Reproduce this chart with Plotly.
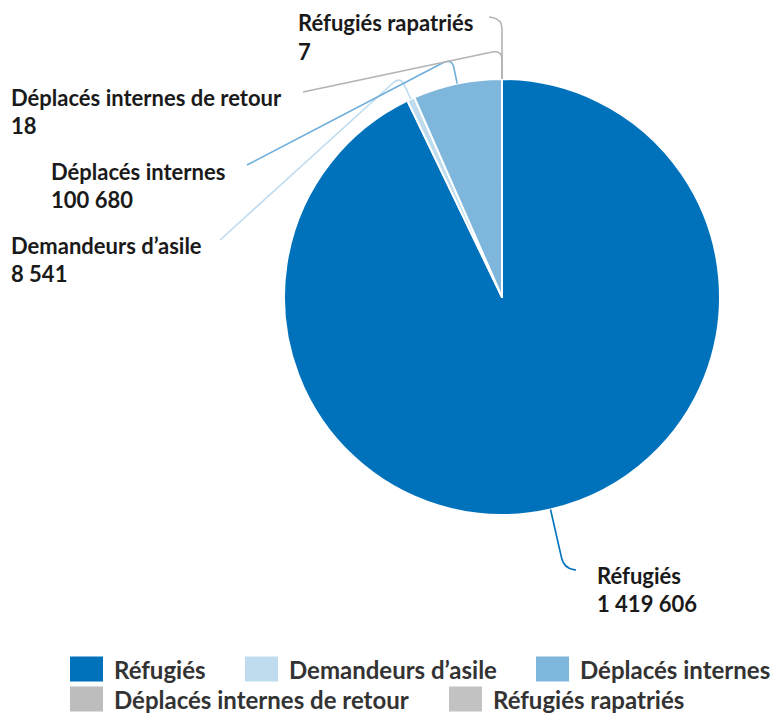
import math
import plotly.graph_objects as go

# ---- data ----
labels = ["Réfugiés", "Demandeurs d’asile", "Déplacés internes",
          "Déplacés internes de retour", "Réfugiés rapatriés"]
values = [1419606, 8541, 100680, 18, 7]
value_text = ["1 419 606", "8 541", "100 680", "18", "7"]
colors = ["#0072BC", "#BFDCEF", "#7EB6DC", "#BDBDBD", "#C2C2C2"]

# ---- layout constants (pixels) ----
W, H = 772, 715
CX, CY, R = 502, 297, 218
FONT = "Lato, 'Open Sans', sans-serif"

# label placement: (text left x, name center y, breakout distance, end point)
label_pos = [
    (596, 575, 60, (576, 570)),
    (10, 245, 25, (220, 240)),
    (50, 171, 26, (247, 165)),
    (10, 98, 29, (303, 92)),
    (297, 23, 60, (489, 17)),
]
VALUE_DY = 28

legend_pos = [  # (marker left x, row center y)
    (70, 669), (245, 669), (536, 669),
    (70, 699), (449, 699),
]
MK_W, MK_H = 33, 25


def px(x):
    return x / W


def py(y):
    return 1 - y / H


fig = go.Figure(go.Pie(
    labels=labels, values=values, sort=False, direction="clockwise",
    rotation=0, textinfo="none", hoverinfo="label+value",
    marker=dict(colors=colors, line=dict(color="white", width=2)),
    domain=dict(x=[px(CX - R), px(CX + R)], y=[py(CY + R), py(CY - R)]),
    showlegend=False,
))

total = sum(values)
shapes, annotations = [], []
cum = 0


def toward(a, b, dist):
    L = math.hypot(b[0] - a[0], b[1] - a[1]) or 1
    return (a[0] + (b[0] - a[0]) * dist / L, a[1] + (b[1] - a[1]) * dist / L)


for i, v in enumerate(values):
    theta = 2 * math.pi * (cum + v / 2) / total
    cum += v
    sx, sy = math.sin(theta), -math.cos(theta)
    tx, ty, d, (ex, ey) = label_pos[i]
    p0 = (CX + R * sx, CY + R * sy)
    p1 = (CX + (R + d) * sx, CY + (R + d) * sy)
    p2 = (ex, ey)
    k = 10
    c0 = toward(p1, p0, k)
    c1 = toward(p1, p2, k)
    path = (f"M {px(p0[0])},{py(p0[1])} L {px(c0[0])},{py(c0[1])} "
            f"Q {px(p1[0])},{py(p1[1])} {px(c1[0])},{py(c1[1])} "
            f"L {px(p2[0])},{py(p2[1])}")
    lc = colors[i] if i not in (3, 4) else "#B3B3B3"
    if i == 2:
        lc = "#6FAEDB"
    shapes.append(dict(type="path", path=path, xref="paper", yref="paper",
                       line=dict(color=lc, width=1.6)))
    for txt, yy in ((labels[i], ty), (value_text[i], ty + VALUE_DY)):
        annotations.append(dict(
            text=f"<b>{txt}</b>", x=px(tx), y=py(yy), xref="paper", yref="paper",
            xanchor="left", yanchor="middle", showarrow=False, borderpad=0,
            font=dict(family=FONT, size=22, color="#1a1a1a")))

    # legend
    lx, lyc = legend_pos[i]
    shapes.append(dict(type="rect", xref="paper", yref="paper",
                       x0=px(lx), x1=px(lx + MK_W),
                       y0=py(lyc + MK_H / 2), y1=py(lyc - MK_H / 2),
                       fillcolor=colors[i], line=dict(width=0)))
    annotations.append(dict(
        text=f"<b>{labels[i]}</b>", x=px(lx + 43), y=py(lyc), xref="paper", yref="paper",
        xanchor="left", yanchor="middle", showarrow=False, borderpad=0,
        font=dict(family=FONT, size=24, color="#333333")))

fig.update_layout(
    width=W, height=H, margin=dict(l=0, r=0, t=0, b=0),
    paper_bgcolor="white", plot_bgcolor="white",
    shapes=shapes, annotations=annotations,
)

fig.write_html("out.html", config={"displayModeBar": False})

# remove the default page margin so the figure sits at the window origin
with open("out.html", encoding="utf-8") as f:
    html = f.read()
html = html.replace("<head>", "<head><style>html,body{margin:0;padding:0;overflow:hidden}</style>", 1)
with open("out.html", "w", encoding="utf-8") as f:
    f.write(html)
